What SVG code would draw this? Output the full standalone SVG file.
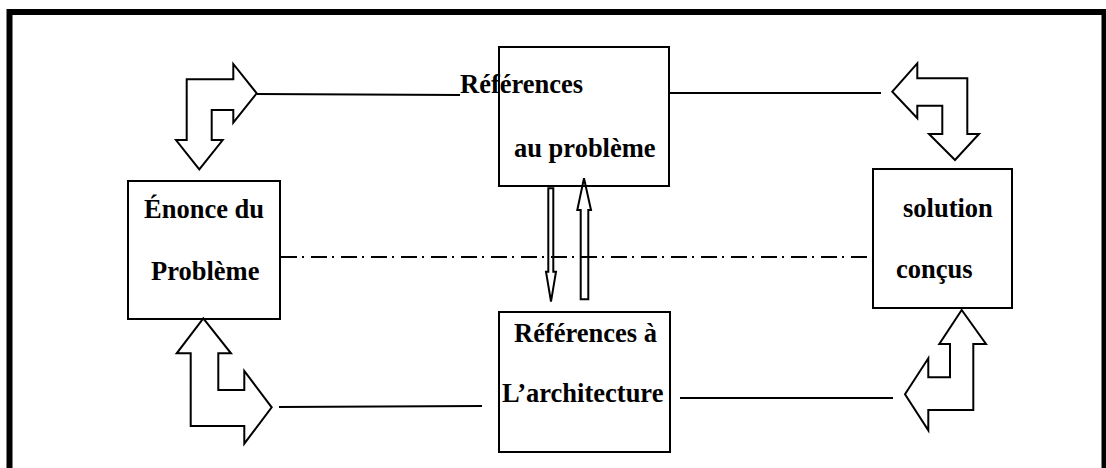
<svg xmlns="http://www.w3.org/2000/svg" width="1106" height="468" viewBox="0 0 1106 468">
  <style>
    .box { fill: none; stroke: #000; stroke-width: 2; }
    .lbl { font-family: "Liberation Serif", "Times New Roman", serif; font-weight: bold; font-size: 26.5px; fill: #000; }
    .link { fill: none; stroke: #000; stroke-width: 2; }
    .bent { fill: #fff; stroke: #000; stroke-width: 2; stroke-linejoin: miter; }
    .thin { fill: none; stroke: #000; stroke-width: 2; stroke-linejoin: miter; }
    .axis { fill: none; stroke: #000; stroke-width: 2; stroke-dasharray: 16 5 2 7; }
  </style>

  <rect width="1106" height="468" fill="#fff"/>
  <!-- outer frame -->
  <rect x="9.5" y="12" width="1095" height="470" fill="none" stroke="#000" stroke-width="6"/>

  <g id="connectors">
    <!-- dash-dot axis between the statement and the solution -->
    <line class="axis" x1="280" y1="257" x2="873" y2="257" stroke-dashoffset="-1"/>
    <!-- straight links -->
    <line class="link" x1="257" y1="94" x2="460" y2="95"/>
    <line class="link" x1="669" y1="93" x2="881" y2="93"/>
    <line class="link" x1="279" y1="407" x2="482" y2="406"/>
    <line class="link" x1="680" y1="398" x2="893" y2="398"/>
    <!-- bent block arrows -->
    <polygon class="bent" points="186.7,79.3 233.3,79.3 233.3,64 256.7,93.3 233.3,122.7 233.3,110 211.7,110 211.7,140 222.7,140 199.3,169.3 176,140 186.7,140"/>
    <polygon class="bent" points="892.3,91.7 917.3,63.3 917.3,78.3 967.3,78.3 967.3,134 979,134 955,160 929,134 942.3,134 942.3,105.7 917.3,105.7 917.3,118.3"/>
    <polygon class="bent" points="203.3,318.3 231,353.3 218.3,353.3 218.3,390 244.3,390 244.3,371 271.7,407.3 244.3,443.7 244.3,426 190.7,426 190.7,353.3 176.7,353.3"/>
    <polygon class="bent" points="961.7,310 986,344 973.3,344 973.3,410 928.3,410 928.3,430.3 905,394.3 928.3,358.3 928.3,377.3 950,377.3 950,344 939.3,344"/>
    <!-- vertical exchange arrows -->
    <polygon class="thin" points="548.3,188.3 553.3,188.3 553.3,271.7 556,271.7 551,301.7 546,271.7 548.3,271.7"/>
    <polygon class="thin" points="584,178.3 591,210 588.3,210 588.3,299.3 580.7,299.3 580.7,210 577.3,210"/>
  </g>

  <g id="enonce">
    <rect class="box" x="128" y="181" width="152" height="138"/>
    <text class="lbl" x="144" y="218">Énonce du</text>
    <text class="lbl" x="151" y="280">Problème</text>
  </g>

  <g id="ref-probleme">
    <rect class="box" x="499" y="47" width="170" height="139"/>
    <text class="lbl" x="460" y="93">Références</text>
    <text class="lbl" x="514" y="157">au problème</text>
  </g>

  <g id="ref-architecture">
    <rect class="box" x="499" y="312" width="171" height="140"/>
    <text class="lbl" x="514" y="342">Références à</text>
    <text class="lbl" x="502" y="402">L’architecture</text>
  </g>

  <g id="solution">
    <rect class="box" x="873" y="169" width="139" height="139"/>
    <text class="lbl" x="903" y="217">solution</text>
    <text class="lbl" x="896" y="278">conçus</text>
  </g>
</svg>
